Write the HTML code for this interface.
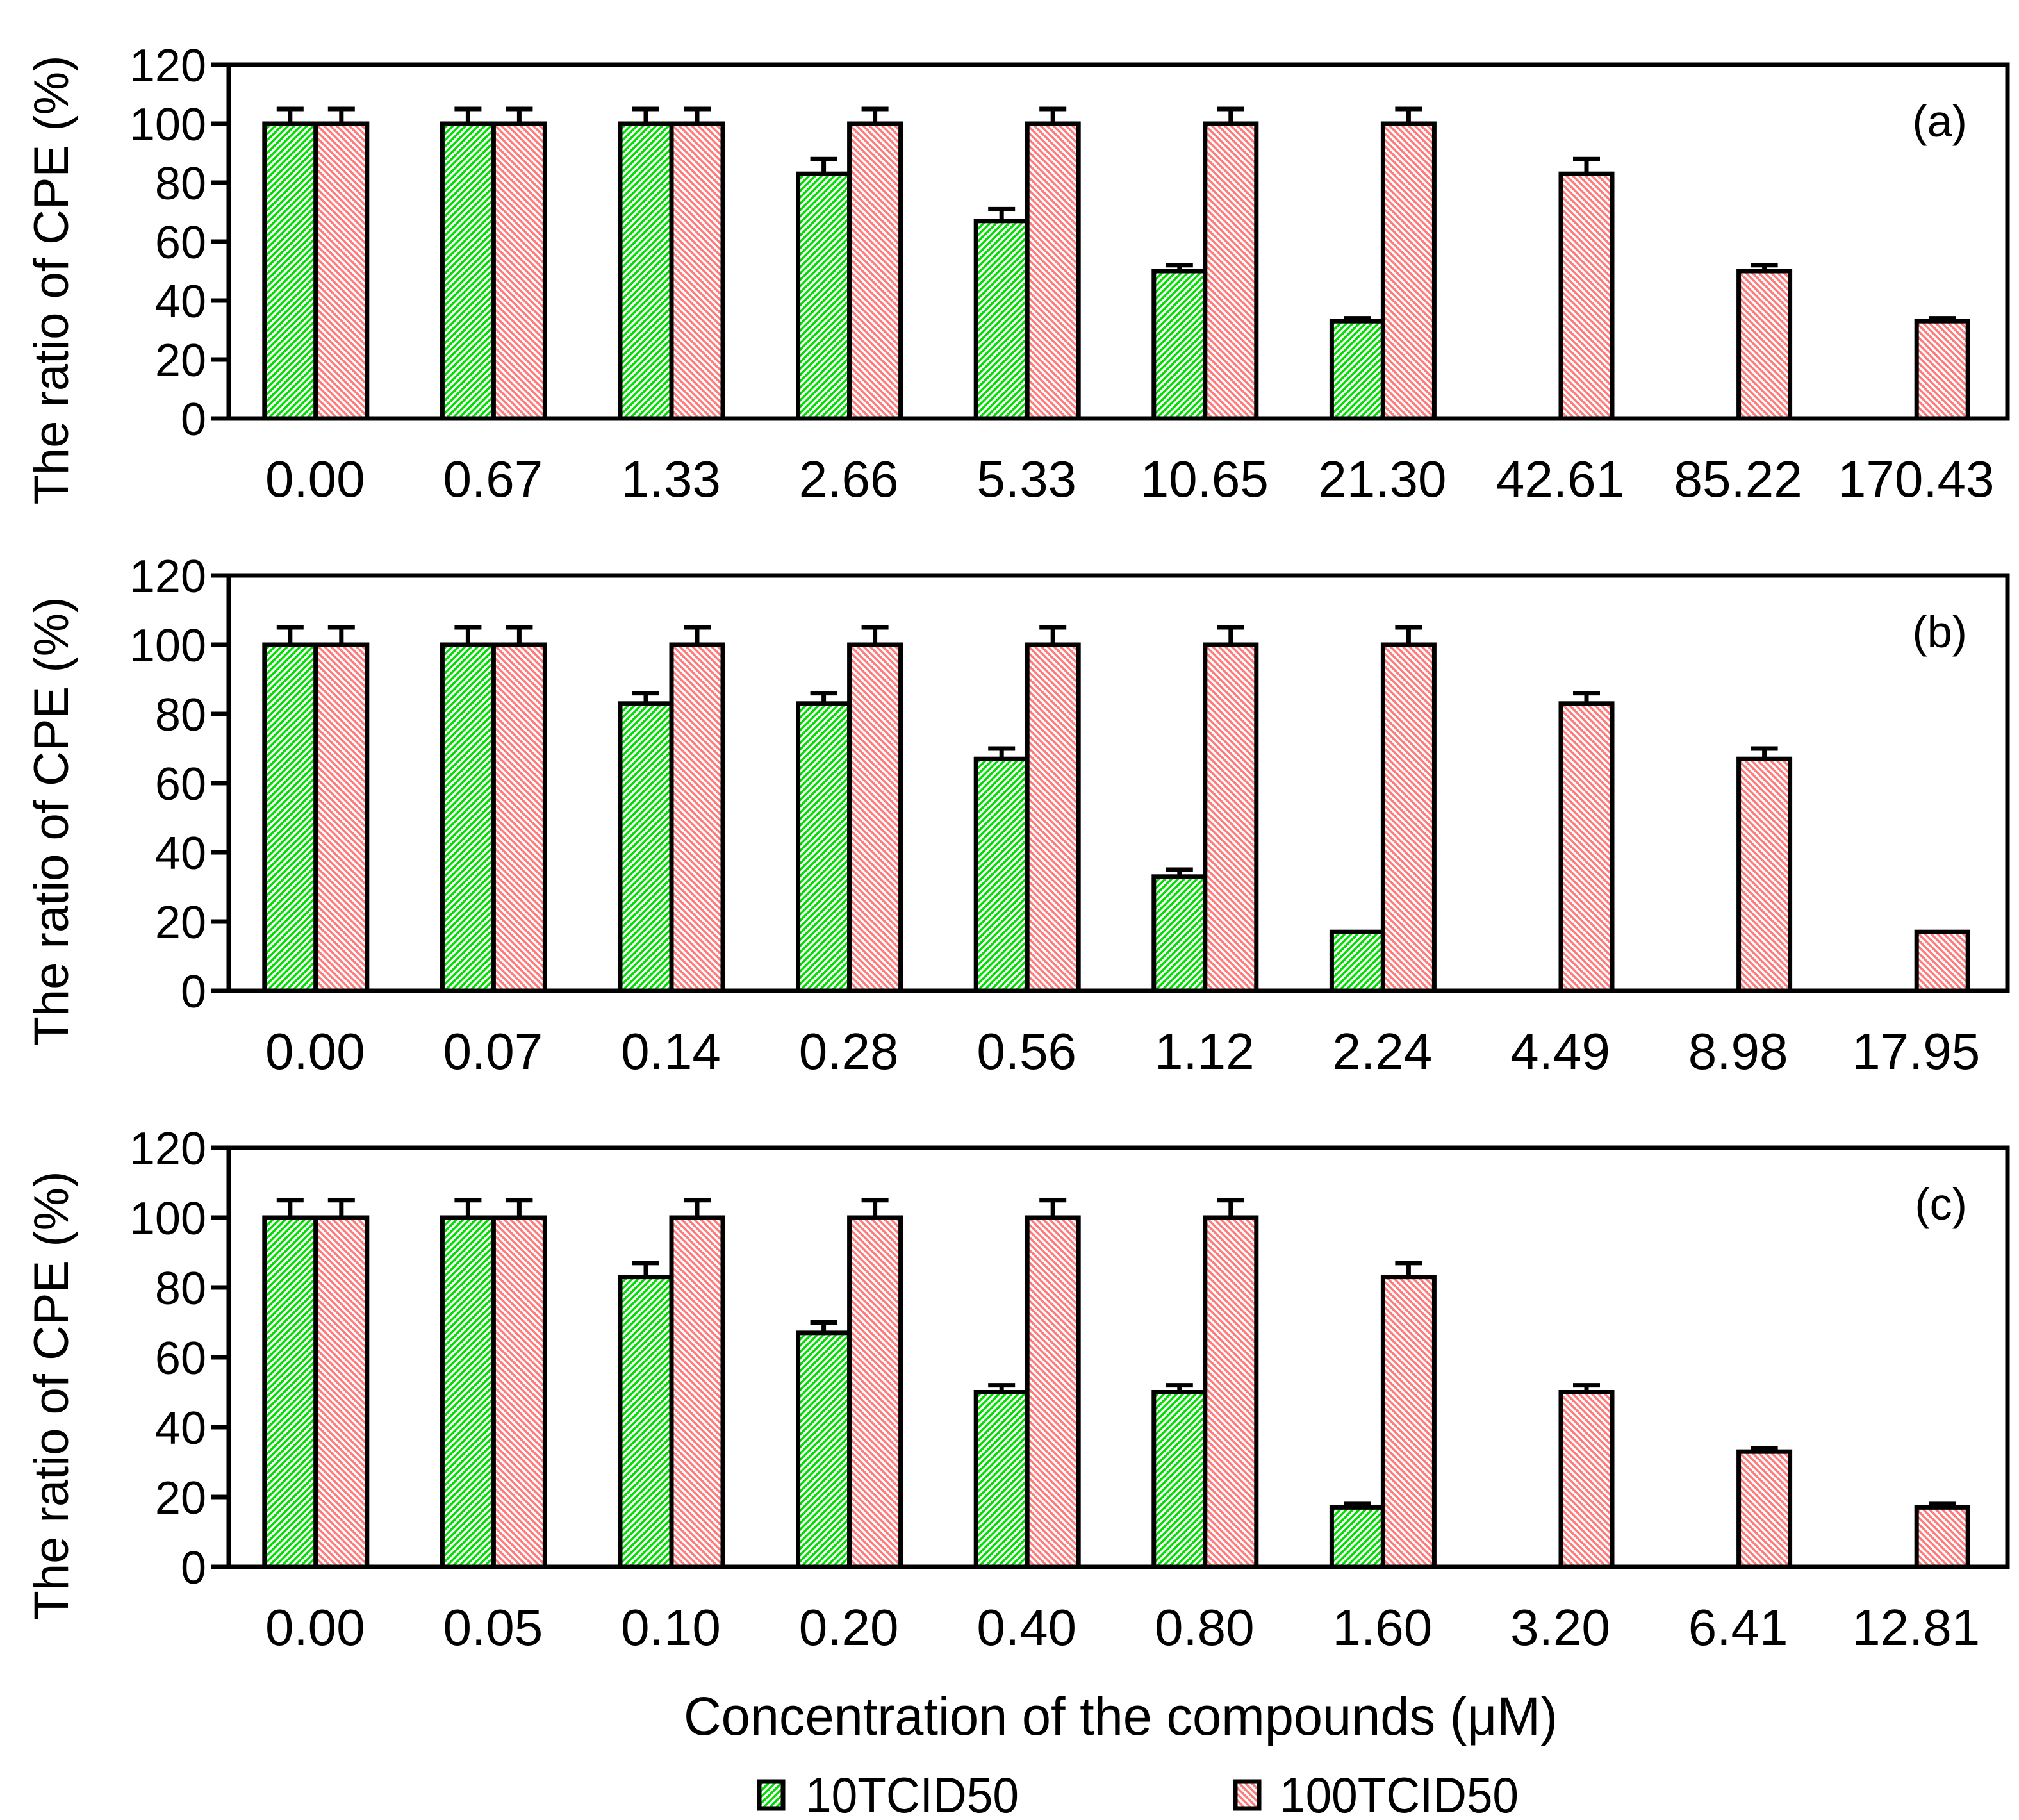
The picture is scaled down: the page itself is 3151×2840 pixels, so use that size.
<!DOCTYPE html>
<html><head><meta charset="utf-8">
<style>html,body{margin:0;padding:0;background:#fff}svg{display:block}text{font-family:"Liberation Sans",Arial,sans-serif;fill:#000}</style>
</head><body>
<svg id="chart" width="3151" height="2840" viewBox="0 0 3151 2840" xmlns="http://www.w3.org/2000/svg">
<defs>
<pattern id="hatchG" patternUnits="userSpaceOnUse" width="7" height="7" patternTransform="rotate(45)">
<rect width="7" height="7" fill="#fff"/><rect width="3.5" height="7" fill="#00dd00"/></pattern>
<pattern id="hatchR" patternUnits="userSpaceOnUse" width="7" height="7" patternTransform="rotate(-45)">
<rect width="7" height="7" fill="#fff"/><rect width="3.5" height="7" fill="#ff7a7a"/></pattern>
</defs>
<g id="plots"></g>
<text x="1749" y="2707" font-size="84" text-anchor="middle" textLength="1364" lengthAdjust="spacingAndGlyphs">Concentration of the compounds (μM)</text>
<g>
<rect x="1185" y="2780" width="37" height="42" fill="url(#hatchG)" stroke="#000" stroke-width="7"/>
<text x="1257" y="2828" font-size="78" textLength="333" lengthAdjust="spacingAndGlyphs">10TCID50</text>
<rect x="1928" y="2780" width="37" height="42" fill="url(#hatchR)" stroke="#000" stroke-width="7"/>
<text x="1997" y="2828" font-size="78" textLength="373" lengthAdjust="spacingAndGlyphs">100TCID50</text>
</g>
</svg>
<script>
const yTicks=[0,20,40,60,80,100,120];
const catsA=["0.00","0.67","1.33","2.66","5.33","10.65","21.30","42.61","85.22","170.43"];
const greenA=[100,100,100,83,67,50,33,null,null,null];
const greenErrA=[5,5,5,5,4,2,1,0,0,0];
const redA=[100,100,100,100,100,100,100,83,50,33];
const redErrA=[5,5,5,5,5,5,5,5,2,1];
const catsB=["0.00","0.07","0.14","0.28","0.56","1.12","2.24","4.49","8.98","17.95"];
const greenB=[100,100,83,83,67,33,17,null,null,null];
const greenErrB=[5,5,3,3,3,2,0,0,0,0];
const redB=[100,100,100,100,100,100,100,83,67,17];
const redErrB=[5,5,5,5,5,5,5,3,3,0];
const catsC=["0.00","0.05","0.10","0.20","0.40","0.80","1.60","3.20","6.41","12.81"];
const greenC=[100,100,83,67,50,50,17,null,null,null];
const greenErrC=[5,5,4,3,2,2,1,0,0,0];
const redC=[100,100,100,100,100,100,83,50,33,17];
const redErrC=[5,5,5,5,5,5,4,2,1,1];

const NS="http://www.w3.org/2000/svg";
const root=document.getElementById('plots');
function mk(tag,attrs,parent){const e=document.createElementNS(NS,tag);for(const k in attrs)e.setAttribute(k,attrs[k]);parent.appendChild(e);return e;}
const X0=357,X1=3133,BW=80;
function drawPanel(id,top,bottom,cats,g,ge,r,re){
  const grp=mk('g',{},root);
  
  
  const y=v=>bottom-(v/120)*(bottom-top);
  const step=(X1-X0)/cats.length;
  const xc=i=>X0+(i+0.5)*step;
  cats.forEach((c,i)=>{
    [[g,ge,'url(#hatchG)',-1,'10tcid50'],[r,re,'url(#hatchR)',0,'100tcid50']].forEach(([vals,errs,fill,off,nm])=>{
      const v=vals[i]; if(v===null||v===undefined) return;
      const bx=xc(i)+off*BW-3;
      const bar=mk('rect',{x:bx,y:y(v),width:BW,height:bottom-y(v),fill:fill,stroke:'#000','stroke-width':7},grp);
      
      
      if(errs[i]>0){
        const cx=bx+BW/2, ye=y(v+errs[i]);
        const eb=mk('path',{d:`M${cx},${y(v)}V${ye}M${cx-21},${ye}H${cx+21}`,stroke:'#000','stroke-width':7,fill:'none'},grp);
        
        
      }
    });
    const t=mk('text',{x:xc(i)-4,y:bottom+122,'font-size':80,'text-anchor':'middle'},grp);
    t.textContent=c;
    
    
  });
  const frame=mk('rect',{x:X0,y:top,width:X1-X0,height:bottom-top,fill:'none',stroke:'#000','stroke-width':7},grp);
  
  
  yTicks.forEach(v=>{
    const tk=mk('line',{x1:330,x2:X0,y1:y(v),y2:y(v),stroke:'#000','stroke-width':7},grp);
    
    
    const t=mk('text',{x:322,y:y(v)+26,'font-size':72,'text-anchor':'end'},grp);
    t.textContent=v;
    
    
  });
  const cy=(top+bottom)/2+60;
  const yt=mk('text',{x:0,y:0,'font-size':76,'text-anchor':'middle',transform:`translate(106,${cy}) rotate(-90)`},grp);
  yt.textContent='The ratio of CPE (%)';
  
  
  const pl=mk('text',{x:3070,y:top+112,'font-size':70,'text-anchor':'end'},grp);
  pl.textContent='('+id+')';
  
  
}
drawPanel('a',101,653,catsA,greenA,greenErrA,redA,redErrA);
drawPanel('b',898,1546,catsB,greenB,greenErrB,redB,redErrB);
drawPanel('c',1791,2445,catsC,greenC,greenErrC,redC,redErrC);
</script>
</body></html>
